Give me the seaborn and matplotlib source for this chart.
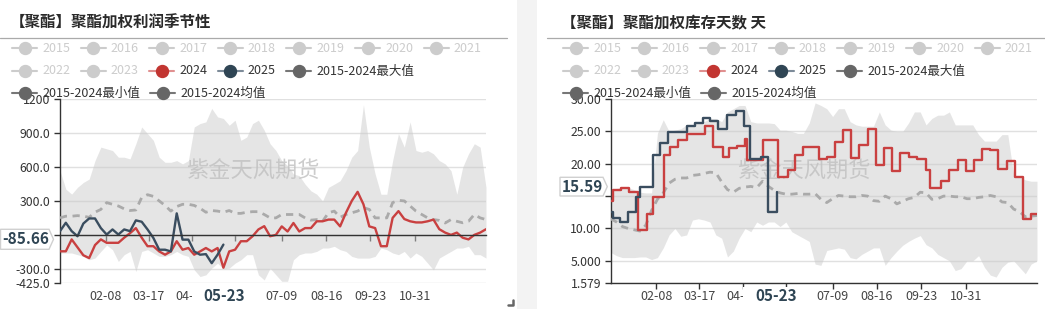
import matplotlib
matplotlib.use("Agg")
import matplotlib.pyplot as plt
import seaborn as sns
from matplotlib.lines import Line2D
from matplotlib.patches import Polygon, Rectangle
from matplotlib.transforms import blended_transform_factory

# ---------------- data ----------------
days = list(range(0, 366, 5))  # day-of-year grid of the seasonal series
xtick_days = [39, 76, 113, 150, 190, 228, 266, 304]
# the 05-30 label sits under the axis-pointer label in the reference, so it is blank
xtick_labels = ["02-08", "03-17", "04-23", "", "07-09", "08-16", "09-23", "10-31"]
pointer_label = "05-23"

legend_row1 = ["2015", "2016", "2017", "2018", "2019", "2020", "2021"]
legend_row2_grey = ["2022", "2023"]
label_2024 = "2024"
label_2025 = "2025"
label_max = "2015-2024最大值"
label_min = "2015-2024最小值"
label_mean = "2015-2024均值"

title_left = "【聚酯】聚酯加权利润季节性"
title_right = "【聚酯】聚酯加权库存天数 天"
watermark = "紫金天风期货"

# left panel: 聚酯加权利润
left_yticks = [-425, -300, 0, 300, 600, 900, 1200]
left_ylabels = ["-425.0", "-300.0", "", "300.0", "600.0", "900.0", "1200"]
left_pointer = "-85.66"
left_max = [567, 404, 360, 420, 463, 493, 656, 775, 760, 745,
            686, 686, 671, 805, 953, 894, 835, 686, 641, 641,
            656, 627, 656, 953, 983, 998, 1117, 1042, 1028, 968,
            1013, 835, 864, 983, 1013, 924, 805, 745, 656, 612,
            538, 523, 448, 389, 359, 300, 419, 448, 478, 567,
            686, 745, 1150, 775, 538, 359, 359, 656, 894, 775,
            998, 745, 730, 745, 716, 656, 627, 567, 359, 597,
            716, 805, 775, 419]
left_min = [-160, -160, -160, -175, -190, -220, -205, -146, -90, -131,
            -235, -175, -146, -324, -146, -131, -160, -190, -190, -175,
            -146, -175, -190, -309, -368, -353, -294, -250, -300, -294,
            -250, -220, -175, -175, -353, -398, -294, -353, -410, -410,
            -220, -175, -160, -160, -146, -116, -116, -101, -131, -146,
            -190, -205, -205, -205, -190, -116, -131, -160, -175, -146,
            -205, -160, -190, -250, -309, -205, -175, -146, -116, -116,
            -101, -175, -175, -205]
left_mean = [150, 165, 165, 170, 165, 155, 200, 225, 285, 270,
             255, 230, 215, 220, 330, 355, 340, 300, 260, 210,
             250, 270, 270, 260, 235, 200, 215, 210, 200, 215,
             190, 190, 200, 205, 205, 180, 150, 150, 180, 180,
             180, 180, 150, 130, 135, 120, 195, 210, 155, 180,
             195, 210, 240, 225, 150, 150, 150, 285, 305, 300,
             255, 210, 180, 150, 135, 128, 105, 135, 120, 107,
             120, 180, 150, 135]
left_2024 = [-145, -145, -40, -110, -180, -205, -90, -40, -70, -70,
             -70, -25, 15, 60, -25, -100, -100, -146, -175, -146,
             -56, -131, -116, -175, -146, -116, -146, -116, -290, -146,
             -131, -56, -56, -12, 48, 77, -12, 0, 75, 30,
             105, 30, 60, 60, 120, 120, 135, 135, 75, 195,
             300, 380, 270, 75, 60, -100, -100, 150, 210, 140,
             120, 110, 110, 120, 135, 50, 20, 0, 20, -25,
             -40, 0, 20, 50]
left_2025_days = days[:29]
left_2025 = [33, 107, 33, -12, 100, 145, 145, 60, 3, 48,
             3, 48, 33, 128, 116, 48, -27, -131, -131, -146,
             190, -42, -42, -146, -175, -170, -250, -175, -86]

# right panel: 聚酯加权库存天数
right_yticks = [1.579, 5, 10, 15, 20, 25, 30]
right_ylabels = ["1.579", "5.000", "10.00", "", "20.00", "25.00", "30.00"]
right_pointer = "15.59"
right_max = [16.0, 16.2, 16.3, 16.3, 16.0, 15.6, 15.5, 15.5, 24.7, 26.8,
             25.0, 25.2, 25.4, 26.0, 26.0, 26.5, 26.5, 27.0, 27.0, 26.5,
             28.0, 28.5, 29.0, 29.0, 26.5, 26.3, 26.3, 26.3, 26.2, 25.2,
             25.2, 25.0, 24.7, 24.7, 26.3, 29.4, 29.0, 28.5, 27.3, 28.5,
             28.5, 26.5, 26.0, 25.8, 25.8, 25.8, 28.0, 26.0, 25.2, 25.0,
             25.0, 26.3, 28.0, 28.0, 26.0, 27.0, 27.5, 27.5, 28.0, 26.0,
             26.0, 26.0, 26.0, 24.5, 23.5, 23.5, 23.5, 24.5, 24.5, 18.3,
             18.0, 17.5, 17.3, 17.3]
right_min = [6.3, 5.8, 5.5, 5.5, 5.5, 5.6, 5.6, 5.2, 5.5, 7.0,
             9.0, 10.0, 8.8, 9.0, 11.3, 11.5, 11.3, 11.0, 9.0, 8.5,
             5.6, 6.5, 8.5, 10.0, 9.5, 11.0, 10.5, 11.0, 11.0, 10.3,
             11.0, 9.5, 9.0, 8.5, 8.0, 4.5, 4.3, 6.6, 6.8, 7.0,
             6.8, 5.5, 5.3, 6.0, 6.5, 7.0, 7.0, 4.3, 5.5, 6.5,
             7.4, 8.0, 8.5, 8.9, 7.5, 7.0, 6.0, 5.5, 5.0, 3.5,
             3.8, 5.0, 5.0, 5.8, 4.0, 2.8, 2.5, 4.0, 4.8, 5.0,
             4.0, 3.0, 4.5, 5.0]
right_mean = [11.5, 11.0, 10.3, 10.0, 9.8, 9.6, 10.5, 12.8, 14.5, 15.5,
              17.0, 17.6, 17.8, 17.8, 18.2, 18.3, 18.5, 18.7, 18.6, 17.2,
              16.0, 15.6, 16.2, 16.4, 16.5, 16.3, 17.3, 16.5, 15.9, 15.5,
              15.3, 15.3, 15.4, 15.3, 15.3, 15.4, 14.5,
              14.0, 14.6, 15.1, 15.0, 14.9, 14.9, 15.1, 15.0, 14.3, 14.2,
              15.0, 14.6, 13.8, 14.2, 14.6, 14.8, 15.6, 15.5, 14.5, 14.6,
              15.0, 15.0, 14.9, 14.9, 14.6, 14.6, 14.8, 14.9, 15.1, 14.9,
              14.1, 14.0, 13.0, 12.6, 11.8, 11.9, 12.0]
right_2024_days = [0, 2, 9, 16, 23, 31, 36, 46, 51, 58, 65, 81, 88, 96, 101, 108, 115, 117,
                   130, 143, 152, 158, 165, 178, 185, 192, 199, 206, 213, 220, 227, 234,
                   241, 248, 255, 262, 270, 273, 283, 290, 297, 304, 311, 318, 325, 332,
                   339, 346, 353, 360, 365]
right_2024 = [14.2, 15.9, 16.2, 15.7, 9.7, 12.3, 14.9, 21.4, 22.6, 23.7, 24.6, 25.8, 22.6,
              21.1, 22.5, 22.8, 23.8, 20.6, 23.7, 18.0, 19.0, 21.4, 22.6, 20.8, 21.0, 23.4,
              25.2, 20.9, 22.9, 25.3, 19.8, 22.5, 18.9, 21.6, 21.1, 20.7, 19.0, 16.2, 17.3,
              19.0, 20.6, 18.9, 20.6, 22.3, 22.1, 19.2, 20.4, 18.0, 11.4, 12.3, 12.3]
right_2025_days = [0, 2, 8, 15, 22, 25, 36, 42, 49, 65, 72, 79, 85, 92, 100, 107, 114, 119,
                   129, 135, 142]
right_2025 = [12.55, 11.6, 11.0, 12.5, 14.9, 16.4, 21.3, 23.2, 24.9, 25.9, 26.3, 27.0, 26.6,
              25.3, 27.5, 28.2, 25.9, 20.7, 21.0, 12.6, 15.59]

# ---------------- style ----------------
RED = "#c94040"
DARK = "#3a4d5f"
GREY_INACTIVE = "#cccccc"
TXT = "#333333"

sns.set_theme(style="white")
plt.rcParams["font.family"] = ["Noto Sans CJK SC", "DejaVu Sans"]
plt.rcParams["axes.unicode_minus"] = False

W, H = 1045, 309
fig = plt.figure(figsize=(W / 100, H / 100), dpi=100)
fig.patch.set_facecolor("white")


def fx(px):
    return px / W


def fy(py):
    return 1 - py / H


# grey separator strip between the two panels
fig.add_artist(Rectangle((fx(517), 0), fx(20), 1, transform=fig.transFigure,
                         facecolor="#f3f3f3", edgecolor="none", zorder=-5))


def legend_item(x_icon, y, label, line_c, mark_c, text_c):
    fig.add_artist(Line2D([fx(x_icon), fx(x_icon + 25)], [fy(y), fy(y)],
                          color=line_c, lw=1.5, transform=fig.transFigure))
    fig.add_artist(Line2D([fx(x_icon + 12.5)], [fy(y)], marker="o", ms=8.6,
                          mfc=mark_c, mec=mark_c, lw=0, transform=fig.transFigure))
    fig.text(fx(x_icon + 30), fy(y), label, color=text_c, fontsize=9,
             ha="left", va="center")


def header(x0, sep_x0, sep_x1, title):
    fig.text(fx(x0 - 2), fy(23), title, fontsize=11.2, fontweight="bold",
             color="#2a2a2a", ha="left", va="center")
    fig.add_artist(Line2D([fx(sep_x0), fx(sep_x1)], [fy(38.3), fy(38.3)],
                          color="#aaaaaa", lw=0.9, transform=fig.transFigure))
    step = 68.6
    for i, lab in enumerate(legend_row1):
        legend_item(x0 + step * i, 48, lab, GREY_INACTIVE, GREY_INACTIVE, GREY_INACTIVE)
    for i, lab in enumerate(legend_row2_grey):
        legend_item(x0 + step * i, 71, lab, GREY_INACTIVE, GREY_INACTIVE, GREY_INACTIVE)
    legend_item(x0 + step * 2, 71, label_2024, "#e09090", "#c23531", TXT)
    legend_item(x0 + step * 3, 71, label_2025, "#7d8b99", "#2f4554", TXT)
    legend_item(x0 + step * 4, 71, label_max, "#777777", "#666666", TXT)
    legend_item(x0, 93, label_min, "#777777", "#666666", TXT)
    legend_item(x0 + 138, 93, label_mean, "#777777", "#666666", TXT)


def draw_panel(ax, mn, mx, mean, x24, y24, x25, y25, step, yticks, ylabels, ylim, zero_axis):
    ax.set_facecolor("white")
    ax.fill_between(days, mn, mx, color="#cccccc", alpha=0.5, lw=0, zorder=1)
    ax.text(0.452, 0.605, watermark, transform=ax.transAxes, fontsize=16,
            color="#c0c0c0", alpha=0.8, ha="center", va="center", zorder=2)
    sns.lineplot(x=days, y=mean, ax=ax, color="#aaaaaa", lw=2.0,
                 linestyle=(0, (2.6, 2.0)), zorder=3)
    kw = dict(drawstyle="steps-post") if step else {}
    sns.lineplot(x=x24, y=y24, ax=ax, color=RED, lw=1.7, zorder=4, **kw)
    sns.lineplot(x=x25, y=y25, ax=ax, color=DARK, lw=1.7, zorder=5, **kw)
    ax.set_xlim(0, 365)
    ax.set_ylim(*ylim)
    ax.set_yticks(yticks)
    ax.set_yticklabels(ylabels)
    ax.set_xticks(xtick_days)
    ax.set_xlabel("")
    ax.set_ylabel("")
    ax.grid(axis="y", color="#e0e0e0", lw=1)
    ax.grid(axis="x", visible=False)
    ax.set_axisbelow(True)
    for s in ["top", "right"]:
        ax.spines[s].set_visible(False)
    for s in ["left", "bottom"]:
        ax.spines[s].set_color("#333333")
        ax.spines[s].set_linewidth(1.0)
    if zero_axis:
        ax.spines["bottom"].set_position(("data", 0))
        ax.spines["bottom"].set_zorder(6)
    ax.tick_params(axis="both", bottom=True, left=True, length=4, width=1,
                   color="#333333", direction="out")
    ax.tick_params(axis="y", labelsize=8.8, labelcolor=TXT, pad=3)
    ax.tick_params(axis="x", labelbottom=False)
    tr = blended_transform_factory(ax.transData, ax.transAxes)
    for d, lab in zip(xtick_days, xtick_labels):
        if lab:
            ax.text(d, -13 / 184, lab, transform=tr, ha="center", va="center",
                    fontsize=9, color="#444444")


def pointer_box(x0, x1, tip, y0, y1, text):
    pts = [(fx(x0), fy(y0)), (fx(x1), fy(y0)), (fx(tip), fy((y0 + y1) / 2)),
           (fx(x1), fy(y1)), (fx(x0), fy(y1))]
    fig.add_artist(Polygon(pts, closed=True, facecolor="white", edgecolor="#d0d0d0",
                           lw=1, transform=fig.transFigure, zorder=4))
    fig.text(fx((x0 + x1) / 2 + 1), fy((y0 + y1) / 2), text, fontsize=11,
             fontweight="bold", color="#2f4554", ha="center", va="center", zorder=5)


def pointer_xlabel(xc, x0, x1):
    fig.add_artist(Rectangle((fx(x0), fy(305)), fx(x1) - fx(x0), fy(287) - fy(305),
                             transform=fig.transFigure, facecolor="white",
                             edgecolor="none", zorder=4))
    fig.text(fx(xc), fy(296), pointer_label, fontsize=11, fontweight="bold",
             color="#2f4554", ha="center", va="center", zorder=5)


axL = fig.add_axes([fx(60), fy(283), fx(486) - fx(60), fy(99) - fy(283)])
draw_panel(axL, left_min, left_max, left_mean, days, left_2024, left_2025_days, left_2025,
           False, left_yticks, left_ylabels, (-425, 1200), True)

axR = fig.add_axes([fx(610.7), fy(283), fx(1037) - fx(610.7), fy(99) - fy(283)])
draw_panel(axR, right_min, right_max, right_mean, right_2024_days, right_2024,
           right_2025_days, right_2025, True, right_yticks, right_ylabels, (1.579, 30), False)

header(12, 0, 507, title_left)
header(563, 547, 1045, title_right)

pointer_box(0.5, 49, 53.5, 229.3, 249.3, left_pointer)
pointer_box(560, 603, 607.3, 177.3, 196, right_pointer)
pointer_xlabel(224.5, 192, 257)
pointer_xlabel(776, 743, 810)

# small resize mark in the corner of the left card
fig.add_artist(Line2D([fx(508), fx(513), fx(513)], [fy(305), fy(305), fy(300)],
                      color="#666666", lw=1.8, transform=fig.transFigure))

fig.savefig("out.png", dpi=100, facecolor="white")
